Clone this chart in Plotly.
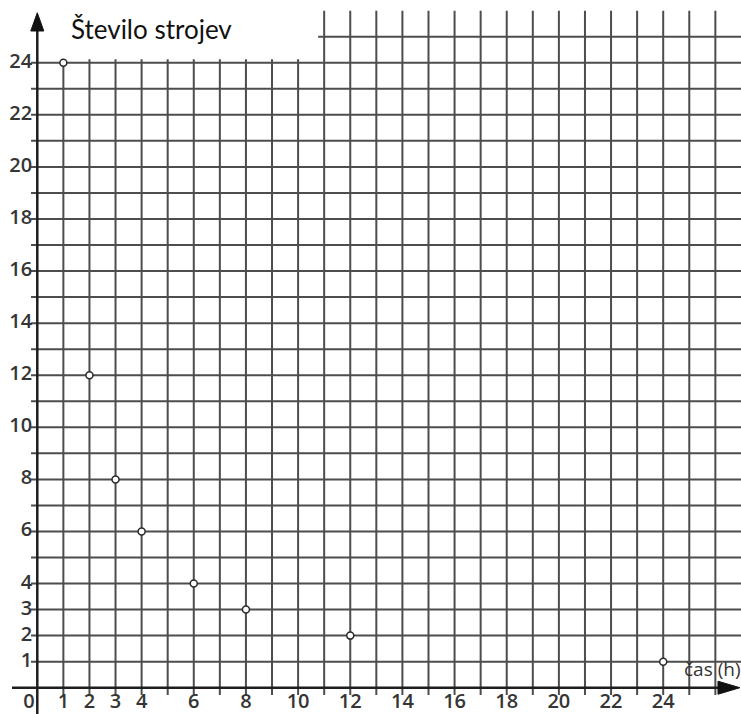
import plotly.graph_objects as go

# ---- data ----
hours = [1, 2, 3, 4, 6, 8, 12, 24]
machines = [24, 12, 8, 6, 4, 3, 2, 1]
x_tick_vals = [1, 2, 3, 4, 6, 8, 10, 12, 14, 16, 18, 20, 22, 24]
y_tick_vals = [1, 2, 3, 4, 6, 8, 10, 12, 14, 16, 18, 20, 22, 24]
x_grid = list(range(1, 27))
y_grid = list(range(1, 26))
title_text = "Število strojev"
x_axis_title = "čas (h)"

# ---- view ----
XMIN, XMAX = -1.430, 26.983
YMIN, YMAX = -1.010, 26.410

GRID_COL = "#4d4d4d"
AXIS_COL = "#1e1e1e"
LABEL_COL = "#353535"
LABEL_FONT = dict(family="Open Sans", size=20, color=LABEL_COL, weight=600)

shapes = []
for gx in x_grid:
    shapes.append(dict(type="line", xref="x", yref="y", x0=gx, x1=gx, y0=-0.28, y1=26.0,
                       line=dict(color=GRID_COL, width=2), layer="below"))
for gy in y_grid:
    shapes.append(dict(type="line", xref="x", yref="y", x0=-0.24, x1=XMAX, y0=gy, y1=gy,
                       line=dict(color=GRID_COL, width=2), layer="below"))
# white title box
shapes.append(dict(type="rect", xref="x", yref="y", x0=XMIN, x1=10.77, y0=24.13, y1=YMAX,
                   fillcolor="white", line=dict(width=0), layer="below"))
# axes
shapes.append(dict(type="line", xref="x", yref="y", x0=-0.97, x1=26.2, y0=0, y1=0,
                   line=dict(color=AXIS_COL, width=2.5), layer="below"))
shapes.append(dict(type="line", xref="x", yref="y", x0=0, x1=0, y0=YMIN, y1=25.3,
                   line=dict(color=AXIS_COL, width=2.5), layer="below"))
# arrow heads
shapes.append(dict(type="path", xref="x", yref="y",
                   path="M -0.25,25.22 L 0,25.92 L 0.25,25.22 Z",
                   fillcolor="#111111", line=dict(color="#111111", width=1), layer="below"))
shapes.append(dict(type="path", xref="x", yref="y",
                   path="M 26.10,-0.25 L 26.94,0 L 26.10,0.25 Z",
                   fillcolor="#111111", line=dict(color="#111111", width=1), layer="below"))

fig = go.Figure()

# x tick labels
fig.add_trace(go.Scatter(
    x=x_tick_vals, y=[-0.57] * len(x_tick_vals), mode="text",
    text=[str(v) for v in x_tick_vals], textposition="middle center",
    textfont=LABEL_FONT, hoverinfo="skip", showlegend=False))
# origin label
fig.add_trace(go.Scatter(
    x=[-0.32], y=[-0.57], mode="text", text=["0"], textposition="middle center",
    textfont=LABEL_FONT, hoverinfo="skip", showlegend=False))
# y tick labels
fig.add_trace(go.Scatter(
    x=[-0.2] * len(y_tick_vals), y=y_tick_vals, mode="text",
    text=[str(v) for v in y_tick_vals], textposition="middle left",
    textfont=LABEL_FONT, hoverinfo="skip", showlegend=False))

# data points
fig.add_trace(go.Scatter(
    x=hours, y=machines, mode="markers",
    marker=dict(symbol="circle", size=7, color="white",
                line=dict(color="#2a2a2a", width=1.5)),
    showlegend=False))

fig.update_layout(
    width=741, height=714,
    margin=dict(l=0, r=0, t=0, b=0),
    paper_bgcolor="white", plot_bgcolor="white",
    xaxis=dict(range=[XMIN, XMAX], visible=False, fixedrange=True),
    yaxis=dict(range=[YMIN, YMAX], visible=False, fixedrange=True),
    shapes=shapes,
    annotations=[
        dict(x=1.22, y=25.3, xref="x", yref="y", text=title_text, showarrow=False,
             xanchor="left", yanchor="middle",
             font=dict(family="Lato", size=26, color="#111111")),
        dict(x=24.71, y=0.72, xref="x", yref="y", text=x_axis_title, showarrow=False,
             xanchor="left", yanchor="middle",
             font=dict(family="Open Sans", size=19, color="#333333")),
    ],
)

fig.write_html(
    "out.html",
    config={"displayModeBar": False},
    post_script="document.body.style.margin='0';document.body.style.overflow='hidden';",
)
